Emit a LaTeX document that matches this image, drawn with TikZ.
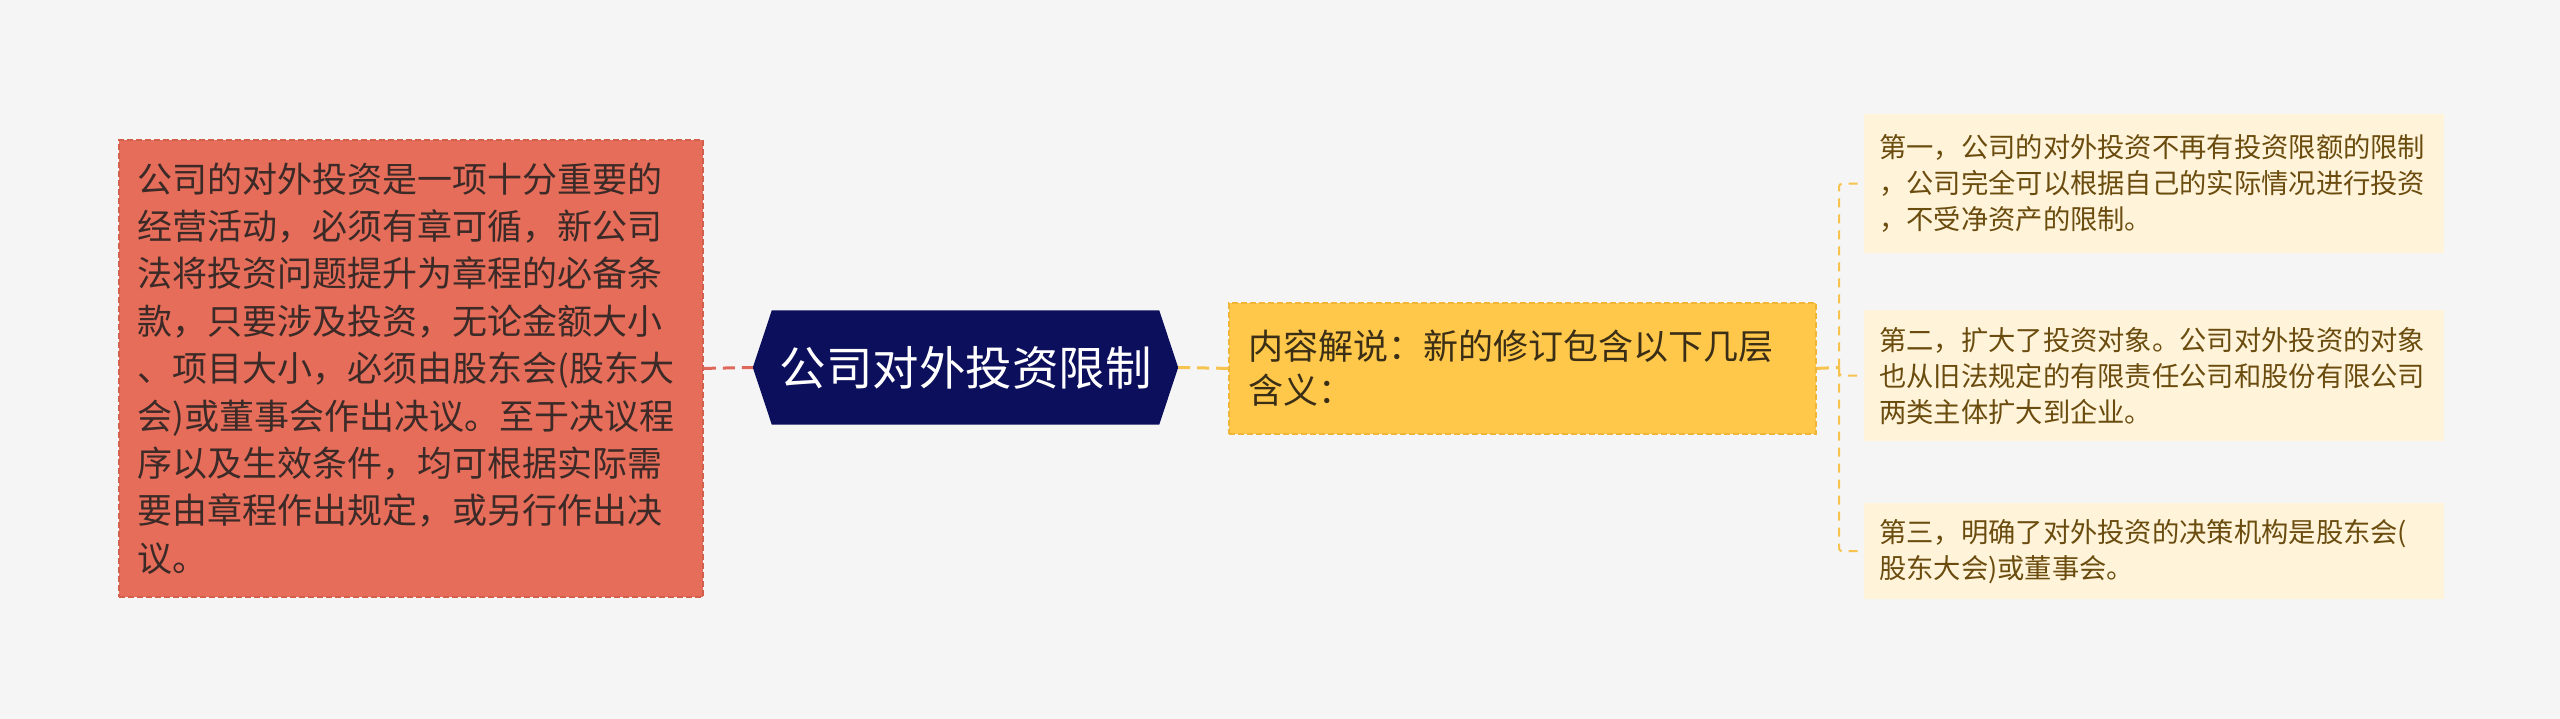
\documentclass[tikz,border=0pt]{standalone}
\usepackage{fontspec}
\setmainfont{Noto Sans CJK SC}
\usetikzlibrary{backgrounds}
\definecolor{bgc}{HTML}{F5F5F5}
\definecolor{leftfill}{HTML}{E56D59}
\definecolor{leftborder}{HTML}{D3604D}
\definecolor{lefttext}{HTML}{3B2A27}
\definecolor{navy}{HTML}{0C0F5C}
\definecolor{yfill}{HTML}{FFC84A}
\definecolor{yborder}{HTML}{F0B537}
\definecolor{ytext}{HTML}{3A2E16}
\definecolor{cfill}{HTML}{FFF3D9}
\definecolor{ctext}{HTML}{6B4C0F}
\definecolor{yline}{HTML}{F5C34E}
\definecolor{rline}{HTML}{E0685A}
\tikzset{
  leftbox/.style={anchor=north west, fill=leftfill, draw=leftborder, line width=1.8pt, dash pattern=on 6pt off 3pt,
    minimum width=584pt, minimum height=457pt, text width=546pt, inner xsep=19pt, inner ysep=0pt, align=left,
    text=lefttext, font=\fontsize{35}{47.4}\selectfont},
  rootbox/.style={minimum width=425pt, minimum height=114pt, inner sep=0pt, text=white,
    font=\fontsize{46.5}{50}\selectfont},
  ybox/.style={anchor=north west, fill=yfill, draw=yborder, line width=1.8pt, dash pattern=on 6pt off 3pt,
    minimum width=587pt, minimum height=131pt, text width=547pt, inner xsep=20pt, inner ysep=0pt, align=left,
    text=ytext, font=\fontsize{35}{44}\selectfont},
  cbox/.style={anchor=north west, fill=cfill, minimum width=580pt, text width=550pt, inner xsep=15pt, inner ysep=0pt,
    align=left, text=ctext, font=\fontsize{27.3}{36}\selectfont},
  rconn/.style={draw=rline, line width=3pt, dash pattern=on 12pt off 7pt},
  yconn/.style={draw=yline, line width=3pt, dash pattern=on 12pt off 7pt},
  bconn/.style={draw=yline, line width=2pt, dash pattern=on 9pt off 7pt, rounded corners=3pt},
}
\begin{document}
\begin{tikzpicture}[x=1pt,y=-1pt]
\useasboundingbox (0,0) rectangle (2560,719);
\node[leftbox] (L) at (118,139) {公司的对外投资是一项十分重要的\\经营活动，必须有章可循，新公司\\法将投资问题提升为章程的必备条\\款，只要涉及投资，无论金额大小\\、项目大小，必须由股东会(股东大\\会)或董事会作出决议。至于决议程\\序以及生效条件，均可根据实际需\\要由章程作出规定，或另行作出决\\议。};
\node[rootbox] (R) at (965.5,367.5) {公司对外投资限制};
\node[ybox] (Y) at (1228,302) {内容解说：新的修订包含以下几层\\含义：};
\node[cbox, minimum height=139pt] (C1) at (1864,114) {第一，公司的对外投资不再有投资限额的限制\\，公司完全可以根据自己的实际情况进行投资\\，不受净资产的限制。};
\node[cbox, minimum height=131pt] (C2) at (1864,310) {第二，扩大了投资对象。公司对外投资的对象\\也从旧法规定的有限责任公司和股份有限公司\\两类主体扩大到企业。};
\node[cbox, minimum height=96pt] (C3) at (1864,503) {第三，明确了对外投资的决策机构是股东会(\\股东大会)或董事会。};
\coordinate (B) at (1839,367.5);
\begin{scope}[on background layer]
\fill[bgc] (0,0) rectangle (2560,719);
\fill[navy] (R.west) -- ([xshift=19pt]R.north west) -- ([xshift=-19pt]R.north east) -- (R.east)
  -- ([xshift=-19pt]R.south east) -- ([xshift=19pt]R.south west) -- cycle;
\end{scope}
\draw[rconn] (L.east) -- (R.west);
\draw[yconn] (R.east) -- (Y.west);
\draw[yconn] (Y.east) -- (B);
\draw[bconn] (B) |- (C1.west);
\draw[bconn] (B) |- (C2.west);
\draw[bconn] (B) |- (C3.west);
\end{tikzpicture}
\end{document}
